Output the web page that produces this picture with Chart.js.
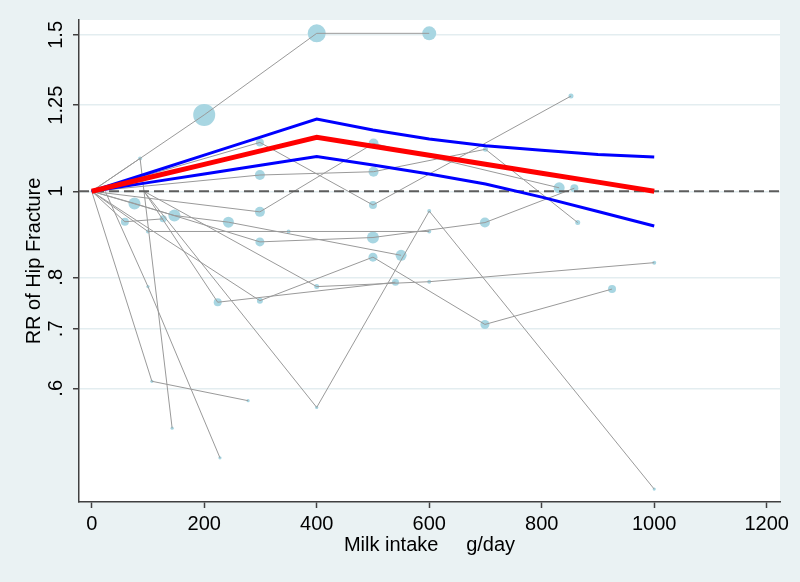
<!DOCTYPE html>
<html><head><meta charset="utf-8">
<script src="https://cdn.jsdelivr.net/npm/chart.js@4/dist/chart.umd.min.js"></script>
<style>html,body{margin:0;padding:0;background:#eaf2f3}#wrap{width:800px;height:582px}</style>
</head><body><div id="wrap"><canvas id="c" width="800" height="582"></canvas></div>
<script>
// ---- axis ticks ----
const xTicks = [0, 200, 400, 600, 800, 1000, 1200];
const yTicks = [0.6, 0.7, 0.8, 1, 1.25, 1.5];
const yTickLabels = ['.6', '.7', '.8', '1', '1.25', '1.5'];

// ---- pooled dose-response curve (RR vs milk g/day) ----
const fitDose  = [0, 100, 200, 300, 400, 500, 600, 700, 800, 900, 1000];
const fitRR    = [1, 1.0356, 1.0724, 1.1106, 1.150, 1.124, 1.098, 1.0725, 1.048, 1.024, 1.0];
const fitUpper = [1, 1.0479, 1.0982, 1.1508, 1.206, 1.172, 1.145, 1.125, 1.112, 1.100, 1.093];
const fitLower = [1, 1.0227, 1.0459, 1.0697, 1.094, 1.0706, 1.0459, 1.019, 0.985, 0.949, 0.914];

// ---- individual studies: dose, RR, weight (marker size) ----
const studyDose = [
  [0, 200, 400, 600],
  [0, 86, 143],
  [0, 100, 350, 600],
  [93, 400, 600, 1000],
  [0, 107, 278],
  [24, 100, 228],
  [0, 299, 501, 831],
  [0, 299, 500, 852],
  [0, 299, 501, 700, 864],
  [0, 76, 299, 500, 699, 858],
  [0, 59, 127],
  [0, 147, 243, 550],
  [93, 400, 600, 1000],
  [93, 224, 540],
  [0, 299, 500, 699, 925]
];
const studyRR = [
  [1, 1.219, 1.506, 1.506],
  [1, 1.089, 0.541],
  [1, 0.901, 0.901, 0.901],
  [1, 0.571, 0.950, 0.462],
  [1, 0.611, 0.581],
  [1, 0.781, 0.501],
  [1, 0.948, 1.132, 1.009],
  [1, 1.135, 0.965, 1.280],
  [1, 1.043, 1.052, 1.115, 0.922],
  [1, 0.969, 0.877, 0.887, 0.922, 1.008],
  [1, 0.924, 0.931],
  [1, 0.939, 0.923, 0.847],
  [1, 0.781, 0.791, 0.831],
  [1, 0.750, 0.790],
  [1, 0.753, 0.843, 0.708, 0.776]
];
const studyWeight = [
  [0, 11, 9, 7],
  [0, 2, 1.6],
  [0, 2, 2, 2],
  [0, 1.6, 2, 1.6],
  [0, 1.6, 1.6],
  [0, 1.6, 1.6],
  [0, 5, 5, 5.5],
  [0, 4, 4, 2.5],
  [0, 5, 5, 2.5, 2.5],
  [0, 6, 4.5, 6, 5, 4],
  [0, 4, 3.5],
  [0, 6, 5.5, 5.5],
  [0, 2.5, 2, 2],
  [0, 4, 3.5],
  [0, 3, 4.5, 4.5, 4]
];

const X_MIN = -22.6, X_MAX = 1223.6, Y_MIN = 0.4468, Y_MAX = 1.559;
const FONT = '"Liberation Sans", Arial, Helvetica, sans-serif';

const pts = (xs, ys) => xs.map((x, i) => ({x: x, y: ys[i]}));

const datasets = [];
// markers (drawn first, underneath)
const markerData = [];
studyDose.forEach((ds, s) => ds.forEach((d, i) => {
  if (studyWeight[s][i] > 0) markerData.push({x: d, y: studyRR[s][i], w: studyWeight[s][i]});
}));
datasets.push({
  data: markerData, showLine: false, order: 20,
  pointRadius: c => (c.raw ? c.raw.w : 0),
  pointBackgroundColor: '#a8d6e2', pointBorderWidth: 0, pointHoverRadius: 0
});
studyDose.forEach((ds, s) => datasets.push({
  data: pts(ds, studyRR[s]), showLine: true, order: 10,
  borderColor: '#9a9a9a', borderWidth: 1, pointRadius: 0, tension: 0
}));
datasets.push({
  data: [{x: X_MIN, y: 1}, {x: X_MAX, y: 1}], showLine: true, order: 4,
  borderColor: '#5c5c5c', borderWidth: 2, borderDash: [10, 5], pointRadius: 0
});
datasets.push({data: pts(fitDose, fitUpper), showLine: true, order: 3, borderColor: '#0000ff', borderWidth: 3, pointRadius: 0, tension: 0});
datasets.push({data: pts(fitDose, fitLower), showLine: true, order: 3, borderColor: '#0000ff', borderWidth: 3, pointRadius: 0, tension: 0});
datasets.push({data: pts(fitDose, fitRR), showLine: true, order: 1, borderColor: '#ff0000', borderWidth: 5, pointRadius: 0, tension: 0});

const decor = {
  id: 'decor',
  beforeDraw(chart) {
    const {ctx, chartArea: a} = chart;
    ctx.save();
    ctx.fillStyle = '#eaf2f3';
    ctx.fillRect(0, 0, chart.width, chart.height);
    ctx.fillStyle = '#ffffff';
    ctx.fillRect(a.left, a.top, a.right - a.left, a.bottom - a.top);
    ctx.restore();
  },
  afterDraw(chart) {
    const {ctx, chartArea: a} = chart;
    const xs = chart.scales.x, ys = chart.scales.y;
    ctx.save();
    ctx.fillStyle = '#000';
    ctx.font = '20px ' + FONT;
    ctx.textBaseline = 'alphabetic';
    ctx.textAlign = 'center';
    xTicks.forEach(v => ctx.fillText(String(v), xs.getPixelForValue(v), a.bottom + 27.5));
    ctx.fillText('Milk intake     g/day', (a.left + a.right) / 2, a.bottom + 49);
    yTicks.forEach((v, i) => {
      ctx.save();
      ctx.translate(a.left - 17.5, ys.getPixelForValue(v));
      ctx.rotate(-Math.PI / 2);
      ctx.fillText(yTickLabels[i], 0, 0);
      ctx.restore();
    });
    ctx.save();
    ctx.translate(40, (a.top + a.bottom) / 2);
    ctx.rotate(-Math.PI / 2);
    ctx.fillText('RR of Hip Fracture', 0, 0);
    ctx.restore();
    ctx.restore();
  }
};

new Chart(document.getElementById('c'), {
  type: 'scatter',
  data: {datasets},
  options: {
    responsive: false, animation: false, devicePixelRatio: 1,
    layout: {padding: {top: 20, right: 20, left: 0, bottom: 0}},
    plugins: {legend: {display: false}, tooltip: {enabled: false}},
    scales: {
      x: {
        type: 'linear', min: X_MIN, max: X_MAX,
        afterBuildTicks: s => { s.ticks = xTicks.map(v => ({value: v})); },
        afterFit: s => { s.height = 80; },
        ticks: {display: false},
        grid: {drawOnChartArea: false, drawTicks: true, tickLength: 6, tickColor: '#404040', tickWidth: 1.5},
        border: {display: true, color: '#404040', width: 1.5}
      },
      y: {
        type: 'logarithmic', min: Y_MIN, max: Y_MAX,
        afterBuildTicks: s => { s.ticks = yTicks.map(v => ({value: v})); },
        afterFit: s => { s.width = 79; },
        ticks: {display: false},
        grid: {color: '#e3edf0', lineWidth: 1.5, drawTicks: true, tickLength: 6, tickColor: '#404040', tickWidth: 1.5},
        border: {display: true, color: '#404040', width: 1.5}
      }
    }
  },
  plugins: [decor]
});
</script></body></html>
